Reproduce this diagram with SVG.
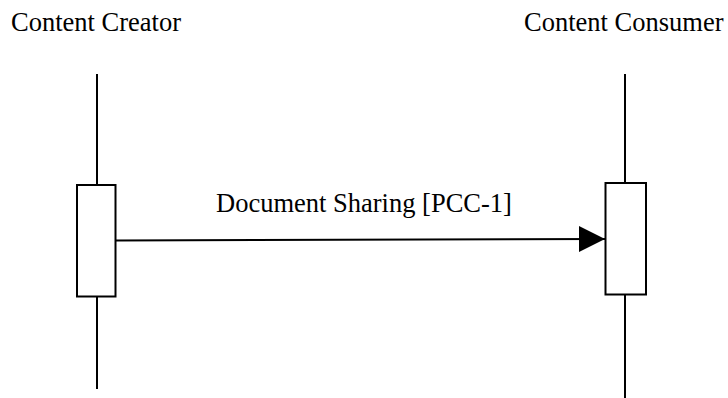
<svg xmlns="http://www.w3.org/2000/svg" width="728" height="398" viewBox="0 0 728 398">
<style>
.lbl{font-family:"Liberation Serif","Times New Roman",serif;font-size:26.5px;fill:#000}
.life{stroke:#000;stroke-width:2;fill:none}
.box{stroke:#000;stroke-width:2;fill:#fff}
.msg{stroke:#000;stroke-width:2;fill:none}
</style>
<defs>
<marker id="arr" markerUnits="userSpaceOnUse" markerWidth="28" markerHeight="28" refX="26" refY="13" orient="auto">
<path d="M0,0 L26,13 L0,26 Z" fill="#000"/>
</marker>
</defs>
<g id="creator">
<text class="lbl" x="11" y="31">Content Creator</text>
<line class="life" x1="97" y1="74" x2="97" y2="389"/>
<rect class="box" x="77" y="185" width="38.5" height="111.5"/>
</g>
<g id="consumer">
<text class="lbl" x="524" y="31">Content Consumer</text>
<line class="life" x1="625" y1="74" x2="625" y2="398"/>
<rect class="box" x="605.5" y="183" width="40.5" height="111.5"/>
</g>
<g id="connectors">
<line class="msg" x1="116" y1="240.5" x2="605" y2="239" marker-end="url(#arr)"/>
<text class="lbl" x="216" y="211.5">Document Sharing [PCC-1]</text>
</g>
</svg>
